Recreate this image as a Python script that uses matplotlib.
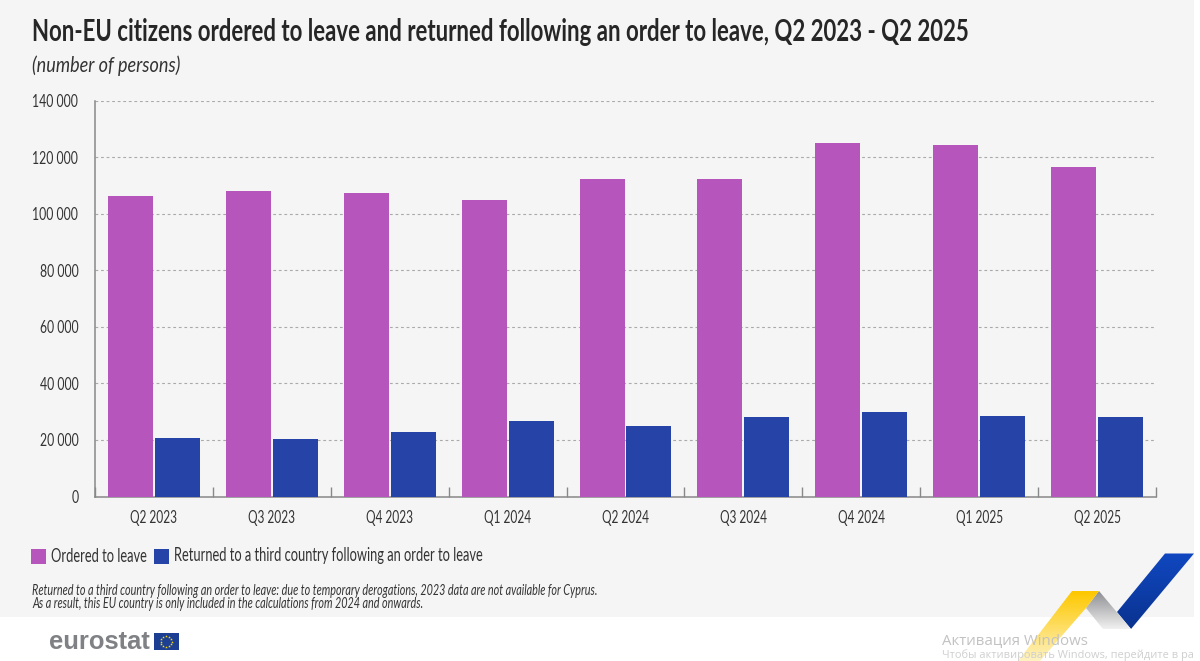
import numpy as np
import matplotlib
matplotlib.use("Agg")
import matplotlib.pyplot as plt
from matplotlib.patches import Rectangle, Polygon
from matplotlib import font_manager as fm
from matplotlib.font_manager import FontProperties as FP
from fontTools.ttLib import TTFont

categories = ["Q2 2023", "Q3 2023", "Q4 2023", "Q1 2024", "Q2 2024", "Q3 2024", "Q4 2024", "Q1 2025", "Q2 2025"]
ordered = [106300, 107900, 107300, 104700, 112400, 112400, 125100, 124100, 116400]
returned = [20800, 20500, 22900, 26800, 25100, 28200, 29900, 28600, 28200]
yticks = [0, 20000, 40000, 60000, 80000, 100000, 120000, 140000]
series_names = ["Ordered to leave", "Returned to a third country following an order to leave"]


def condensed(out, sx, family="Lato", weight="normal", style="normal"):
    """Build a horizontally condensed copy of an installed font (the reference uses a condensed face)."""
    src = fm.findfont(FP(family=family, weight=weight, style=style))
    try:
        f = TTFont(src)
        glyf = f["glyf"]
        for name in glyf.keys():
            g = glyf[name]
            if g.isComposite():
                for c in g.components:
                    c.x = int(round(c.x * sx))
            elif g.numberOfContours > 0:
                g.coordinates.scale((sx, 1))
        hmtx = f["hmtx"]
        for name in hmtx.metrics:
            a, l = hmtx.metrics[name]
            hmtx.metrics[name] = (int(round(a * sx)), int(round(l * sx)))
        for t in ("kern", "GPOS", "GSUB", "fpgm", "prep", "cvt ", "hdmx", "VDMX", "LTSH", "gvar", "fvar", "avar", "HVAR", "MVAR", "STAT"):
            if t in f:
                del f[t]
        f.save(out)
        return FP(fname=out)
    except Exception as e:
        print("condense failed", e)
        return FP(fname=src)


reg = condensed("cond_reg.ttf", 0.68)
bold = condensed("cond_bold.ttf", 0.74, weight="bold")
ital = condensed("cond_ital.ttf", 0.74, style="italic")
ital_wide = condensed("cond_ital2.ttf", 0.85, style="italic")
plt.rcParams["font.family"] = ["Lato", "DejaVu Sans"]


def fnt(base, size):
    p = base.copy()
    p.set_size(size)
    return p


W, H = 1200, 661
fig = plt.figure(figsize=(W / 100, H / 100), dpi=100, facecolor="white")
fx = lambda x: x / W
fy = lambda y: 1 - y / H

fig.add_artist(Rectangle((0, fy(617)), fx(1194), 617 / H, transform=fig.transFigure, fc="#f5f5f5", ec="none", zorder=-5))

ax = fig.add_axes([fx(95), fy(496.5), (1156 - 95) / W, (496.5 - 100.5) / H])
ax.patch.set_alpha(0)
x = np.arange(len(categories))
bw = 45 / 118
off = 23.5 / 118
ax.bar(x - off, ordered, bw, color="#b656bd", zorder=3)
ax.bar(x + off, returned, bw, color="#2644a7", zorder=3)
ax.set_xlim(-0.5, len(categories) - 0.5)
ax.set_ylim(0, 140000)
ax.set_yticks(yticks)
ax.set_yticklabels([f"{v:,}".replace(",", " ") for v in yticks], fontproperties=fnt(reg, 13), color="#333333")
ax.set_xticks(x)
ax.set_xticklabels(categories, fontproperties=fnt(reg, 12.6), color="#333333")
ax.set_xticks(np.arange(-0.5, len(categories)), minor=True)
ax.tick_params(axis="y", length=0, pad=12)
ax.tick_params(axis="x", which="major", length=0, pad=10)
ax.tick_params(axis="x", which="minor", direction="in", length=7, width=1, color="#888888")
ax.grid(axis="y", color="#aaaaaa", linestyle=(0, (2.5, 2.5)), linewidth=0.8, zorder=0)
ax.set_axisbelow(True)
for s in ("top", "right"):
    ax.spines[s].set_visible(False)
for s in ("left", "bottom"):
    ax.spines[s].set_color("#888888")
    ax.spines[s].set_linewidth(1.1)

# Titles
fig.text(fx(32), fy(32), "Non-EU citizens ordered to leave and returned following an order to leave, Q2 2023 - Q2 2025",
         fontproperties=fnt(bold, 21.65), color="#262626", va="center", ha="left")
fig.text(fx(32), fy(66), "(number of persons)", fontproperties=fnt(ital_wide, 15.3), color="#333333", va="center")

# Legend
colors = ["#b656bd", "#2644a7"]
for sx_, tx, c, name in zip((31, 154), (51, 174), colors, series_names):
    fig.add_artist(Rectangle((fx(sx_), fy(564)), 15 / W, 15 / H, transform=fig.transFigure, fc=c, ec="none"))
    fig.text(fx(tx), fy(556), name, fontproperties=fnt(reg, 13.65), color="#333333", va="center")

# Notes
fig.text(fx(32), fy(591.5), "Returned to a third country following an order to leave: due to temporary derogations, 2023 data are not available for Cyprus.",
         fontproperties=fnt(ital, 10.55), color="#333333", va="center")
fig.text(fx(32), fy(604), "As a result, this EU country is only included in the calculations from 2024 and onwards.",
         fontproperties=fnt(ital, 10.55), color="#333333", va="center")

# Eurostat logo
fig.text(fx(49), fy(642), "eurostat", fontsize=18.4, fontweight="bold", family=["Liberation Sans", "DejaVu Sans"], color="#7f8185", va="center")
fig.add_artist(Rectangle((fx(153.5), fy(650)), 25.5 / W, 17 / H, transform=fig.transFigure, fc="#1c3f94", ec="none"))
ang = np.arange(12) * np.pi / 6
fig.add_artist(plt.Line2D(fx(166.2 + 5.6 * np.cos(ang)), fy(641.5 + 5.6 * np.sin(ang)), transform=fig.transFigure,
                          ls="none", marker="*", ms=2, color="#ffdd00", mew=0))


# Decorative ribbon
def gradient_poly(pts, c1, c2, n=30):
    pts = np.array(pts, float)
    top, bottom = pts[:, 1].min(), pts[:, 1].max()
    c1, c2 = np.array(matplotlib.colors.to_rgba(c1)), np.array(matplotlib.colors.to_rgba(c2))
    overlay = fig.add_axes([0, 0, 1, 1], zorder=5)
    overlay.set_xlim(0, W); overlay.set_ylim(H, 0); overlay.axis("off")
    img = np.zeros((n, 2, 4))
    for i in range(n):
        img[i, :] = c1 + (c2 - c1) * i / (n - 1)
    im = overlay.imshow(img, extent=(pts[:, 0].min(), pts[:, 0].max(), bottom, top), aspect="auto", interpolation="bilinear")
    overlay.set_xlim(0, W); overlay.set_ylim(H, 0)
    poly = Polygon(pts, closed=True, transform=overlay.transData, fc="none", ec="none")
    overlay.add_patch(poly)
    im.set_clip_path(poly)


gradient_poly([(1165, 553.5), (1194, 553.5), (1131, 629), (1117, 612)], "#1047c0", "#0a3390")
gradient_poly([(1099, 591), (1131, 629), (1103, 629), (1086, 608)], "#8e8f93", "#f0f0f0")
gradient_poly([(1072, 591), (1099, 591), (1086, 608), (1040, 661), (1018, 661)], "#fdc800", "#fff2c0")

# Watermark
fig.text(fx(942), fy(641), "Активация Windows", fontsize=10.8, color="#c2c2c2", family=["Open Sans", "DejaVu Sans"], va="center", zorder=10)
fig.text(fx(942), fy(655.5), "Чтобы активировать Windows, перейдите в ра", fontsize=7.9, color="#cfcfcf",
         family=["Open Sans", "DejaVu Sans"], va="center", zorder=10)

fig.savefig("out.png", dpi=100)
